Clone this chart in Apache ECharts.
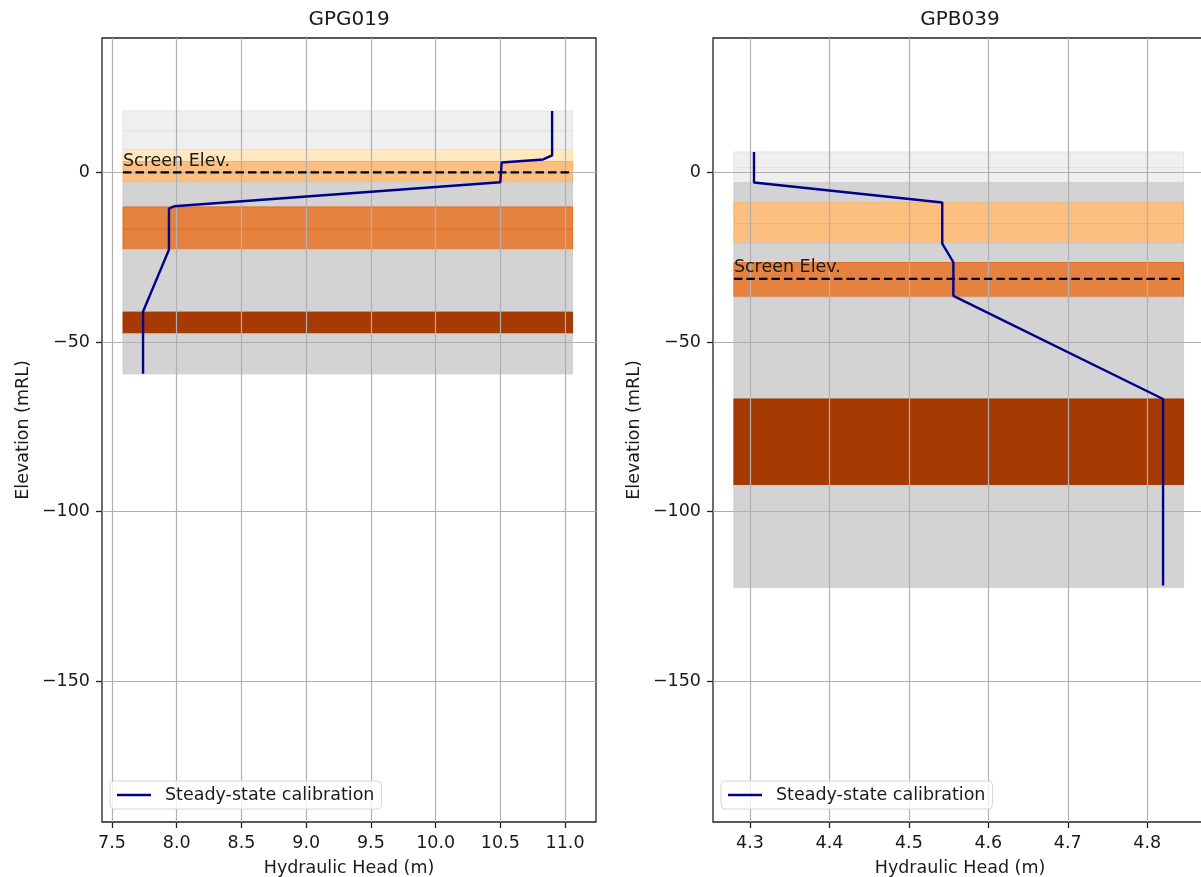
<!DOCTYPE html>
<html>
<head>
<meta charset="utf-8">
<script src="https://cdn.jsdelivr.net/npm/echarts@6/dist/echarts.min.js"></script>
<style>
  html, body { margin: 0; padding: 0; background: #fff; overflow: hidden; }
  #chart { width: 1201px; height: 877px; }
</style>
</head>
<body>
<div id="chart"></div>
<script>
// ---- Bore GPG019 ----
const gpg019Head = [10.90, 10.90, 10.83, 10.51, 10.50, 7.98, 7.94, 7.94, 7.74, 7.74];
const gpg019Elev = [18.1, 5.0, 3.8, 2.9, -2.9, -10.0, -10.7, -22.8, -41.0, -59.4];
const gpg019LayerTop    = [18.1, 12.2, 6.7, 3.2, -2.9, -10.2, -16.8, -22.8, -41.2, -47.6];
const gpg019LayerBottom = [12.2, 6.7, 3.2, -2.9, -10.2, -16.8, -22.8, -41.2, -47.6, -59.4];
const gpg019LayerClass  = [0, 0, 2, 3, 1, 4, 4, 1, 5, 1];
const gpg019LayerSpan   = [7.585, 11.058];
const gpg019Screen      = 0.0;

// ---- Bore GPB039 ----
const gpb039Head = [4.305, 4.305, 4.542, 4.542, 4.556, 4.556, 4.820, 4.820];
const gpb039Elev = [6.0, -3.0, -8.9, -21.0, -26.5, -36.4, -66.8, -121.8];
const gpb039LayerTop    = [6.0, 1.4, -3.1, -9.0, -15.1, -20.8, -26.6, -36.8, -66.8, -92.3];
const gpb039LayerBottom = [1.4, -3.1, -9.0, -15.1, -20.8, -26.6, -36.8, -66.8, -92.3, -122.3];
const gpb039LayerClass  = [0, 0, 1, 3, 3, 1, 4, 1, 5, 1];
const gpb039LayerSpan   = [4.2797, 4.8458];
const gpb039Screen      = -31.4;

// ---- Axes ----
const elevTicks = [-150, -100, -50, 0];
const elevRange = [-191.5, 39.6];
const gpg019HeadTicks = [7.5, 8.0, 8.5, 9.0, 9.5, 10.0, 10.5, 11.0];
const gpg019HeadRange = [7.4228, 11.239];
const gpb039HeadTicks = [4.3, 4.4, 4.5, 4.6, 4.7, 4.8];
const gpb039HeadRange = [4.2534, 4.8753];

const titles = ['GPG019', 'GPB039'];
const seriesName = 'Steady-state calibration';
const screenText = 'Screen Elev.';

// Hydrostratigraphic unit fills and their edge tint
const unitFill = ['#efefef', '#d3d3d3', '#fee8c0', '#fdbf80', '#e6823f', '#a63a03'];
const unitEdge = ['#e2e2e2', '#cdcdcd', '#fcdcaa', '#fbae66', '#e26d26', '#a23502'];

const FONT = 'DejaVu Sans';
const TXT = '#1a1a1a';
const FS = 17.5;

function minus(v) { return v < 0 ? '\u2212' + Math.abs(v) : String(v); }

function layerData(top, bottom, cls, span) {
  return top.map((t, i) => [span[0], span[1], t, bottom[i], cls[i]]);
}

function bandSeries(idx, data) {
  return {
    type: 'custom',
    xAxisIndex: idx, yAxisIndex: idx,
    z: 0,
    silent: true,
    data: data,
    encode: { x: [0, 1], y: [2, 3] },
    renderItem: function (params, api) {
      const p0 = api.coord([api.value(0), api.value(2)]);
      const p1 = api.coord([api.value(1), api.value(3)]);
      const c = api.value(4);
      return {
        type: 'rect',
        shape: { x: p0[0], y: p0[1], width: p1[0] - p0[0], height: p1[1] - p0[1] },
        style: { fill: unitFill[c], stroke: unitEdge[c], lineWidth: 1 }
      };
    }
  };
}

function screenSeries(idx, span, elev) {
  return [{
    type: 'line',
    xAxisIndex: idx, yAxisIndex: idx,
    z: 3, silent: true, symbol: 'none',
    data: [[span[0], elev], [span[1], elev]],
    lineStyle: { color: '#000', width: 2.4, type: [8.5, 4] }
  }, {
    type: 'custom',
    xAxisIndex: idx, yAxisIndex: idx,
    z: 4, silent: true,
    data: [[span[0], elev]],
    renderItem: function (params, api) {
      const p = api.coord([api.value(0), api.value(1)]);
      return {
        type: 'text',
        x: p[0], y: p[1] - 2,
        style: { text: screenText, fill: TXT, font: FS + 'px "' + FONT + '"', textAlign: 'left', textVerticalAlign: 'bottom' }
      };
    }
  }];
}

function profileSeries(idx, head, elev) {
  return {
    name: seriesName,
    type: 'line',
    xAxisIndex: idx, yAxisIndex: idx,
    z: 5, symbol: 'none', silent: true,
    data: head.map((h, i) => [h, elev[i]]),
    lineStyle: { color: '#00008b', width: 2.4 },
    itemStyle: { color: '#00008b' }
  };
}

const tickStyle = { color: '#222', width: 1.3 };
const gridLine = { show: true, lineStyle: { color: '#b0b0b0', width: 1.2 } };

function xAxisDef(idx, range, ticks) {
  return {
    type: 'value', gridIndex: idx, z: 1,
    min: range[0], max: range[1],
    name: 'Hydraulic Head (m)', nameLocation: 'middle', nameGap: 37,
    nameTextStyle: { color: TXT, fontSize: FS, fontFamily: FONT },
    axisLine: { show: false, onZero: false },
    axisTick: { show: true, inside: false, length: 6, customValues: ticks, lineStyle: tickStyle },
    axisLabel: { customValues: ticks, margin: 12, color: TXT, fontSize: FS, fontFamily: FONT,
                 formatter: v => v.toFixed(1) },
    splitLine: gridLine
  };
}

function yAxisDef(idx) {
  return {
    type: 'value', gridIndex: idx, z: 1,
    min: elevRange[0], max: elevRange[1],
    name: 'Elevation (mRL)', nameLocation: 'middle', nameGap: 70, nameRotate: 90,
    nameTextStyle: { color: TXT, fontSize: FS, fontFamily: FONT },
    axisLine: { show: false, onZero: false },
    axisTick: { show: true, inside: false, length: 6, customValues: elevTicks, lineStyle: tickStyle },
    axisLabel: { customValues: elevTicks, margin: 12, color: TXT, fontSize: FS, fontFamily: FONT,
                 formatter: minus },
    splitLine: gridLine
  };
}

// The second panel runs past the right edge of the page, as in the source figure
const gridBox = [
  { left: 102, top: 38, width: 494, height: 784 },
  { left: 713, top: 38, width: 494, height: 784 }
];

const chart = echarts.init(document.getElementById('chart'), null, { renderer: 'canvas' });

chart.setOption({
  animation: false,
  backgroundColor: '#fff',
  textStyle: { fontFamily: FONT },
  title: titles.map((t, i) => ({
    text: t,
    left: gridBox[i].left + gridBox[i].width / 2,
    top: 10,
    padding: 0,
    textAlign: 'center',
    textStyle: { color: TXT, fontSize: 20, fontWeight: 'normal', fontFamily: FONT }
  })),
  grid: gridBox.map(g => Object.assign({
    show: true, borderColor: '#222', borderWidth: 1.3, backgroundColor: 'transparent',
    containLabel: false, outerBoundsMode: 'none'
  }, g)),
  legend: [0, 1].map(i => ({
    left: gridBox[i].left + 8, top: 781,
    orient: 'vertical',
    data: [{ name: seriesName, icon: 'rect' }],
    itemWidth: 34, itemHeight: 2.5, itemGap: 0,
    padding: [5, 7, 5, 7],
    backgroundColor: 'rgba(255,255,255,0.8)',
    borderColor: '#d6d6d6', borderWidth: 1, borderRadius: 4,
    selectedMode: false,
    textStyle: { color: TXT, fontSize: FS, fontFamily: FONT, padding: [0, 0, 0, 9] }
  })),
  xAxis: [
    xAxisDef(0, gpg019HeadRange, gpg019HeadTicks),
    xAxisDef(1, gpb039HeadRange, gpb039HeadTicks)
  ],
  yAxis: [yAxisDef(0), yAxisDef(1)],
  series: [
    bandSeries(0, layerData(gpg019LayerTop, gpg019LayerBottom, gpg019LayerClass, gpg019LayerSpan)),
    bandSeries(1, layerData(gpb039LayerTop, gpb039LayerBottom, gpb039LayerClass, gpb039LayerSpan)),
    ...screenSeries(0, gpg019LayerSpan, gpg019Screen),
    ...screenSeries(1, gpb039LayerSpan, gpb039Screen),
    profileSeries(0, gpg019Head, gpg019Elev),
    profileSeries(1, gpb039Head, gpb039Elev)
  ]
});
</script>
</body>
</html>
